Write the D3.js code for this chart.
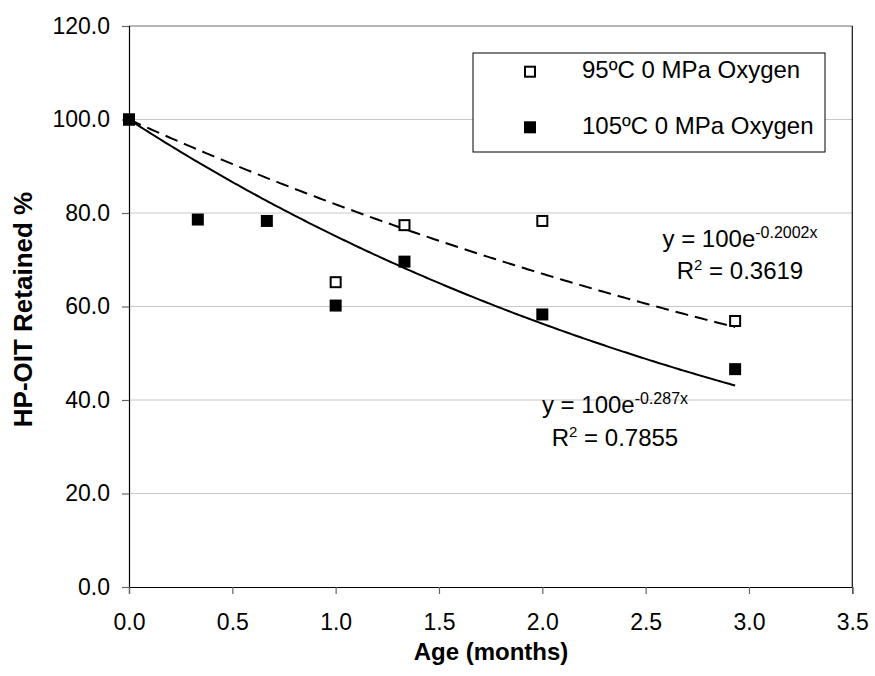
<!DOCTYPE html>
<html>
<head>
<meta charset="utf-8">
<script src="https://cdn.jsdelivr.net/npm/d3@7"></script>
<style>
  html, body { margin: 0; padding: 0; background: #fff; }
  svg { display: block; }
  text { font-family: "Liberation Sans", Arial, sans-serif; fill: #000; }
</style>
</head>
<body>
<svg id="chart" width="875" height="676"></svg>
<script>
// ---- Data ----
const series95x = [0, 1.0, 1.333, 2.0, 2.933];
const series95y = [100, 65.2, 77.4, 78.3, 56.9];
const series105x = [0, 0.333, 0.667, 1.0, 1.333, 2.0, 2.933];
const series105y = [100, 78.6, 78.3, 60.2, 69.6, 58.3, 46.6];
const seriesNames = ["95ºC 0 MPa Oxygen", "105ºC 0 MPa Oxygen"];
// trendline y = a*e^(b x)
const trendA = [100, 100];
const trendB = [-0.2002, -0.287];
const trendR2 = ["0.3619", "0.7855"];
const trendExp = ["-0.2002x", "-0.287x"];
const xTicks = [0, 0.5, 1.0, 1.5, 2.0, 2.5, 3.0, 3.5];
const yTicks = [0, 20, 40, 60, 80, 100, 120];

(function () {
// ---- Layout ----
const svg = d3.select("#chart");
const pL = 129, pR = 852.3, pT = 26, pB = 587;
const x = d3.scaleLinear().domain([0, 3.5]).range([pL, pR]);
const y = d3.scaleLinear().domain([0, 120]).range([pB, pT]);

// gridlines
svg.append("g").selectAll("line").data(yTicks.filter(d => d > 0)).join("line")
  .attr("x1", pL).attr("x2", pR)
  .attr("y1", d => y(d)).attr("y2", d => y(d))
  .attr("stroke", "#c8c8c8").attr("stroke-width", 1);

// plot border top/right
svg.append("line").attr("x1", pL).attr("x2", pR).attr("y1", pT).attr("y2", pT)
  .attr("stroke", "#888").attr("stroke-width", 1);
svg.append("line").attr("x1", pR).attr("x2", pR).attr("y1", pT).attr("y2", pB)
  .attr("stroke", "#111").attr("stroke-width", 1.2);

// axes
const fmt = d3.format(".1f");
const yAxis = svg.append("g").attr("transform", `translate(${pL},0)`)
  .call(d3.axisLeft(y).tickValues(yTicks).tickFormat(fmt).tickSize(7).tickPadding(12));
const xAxis = svg.append("g").attr("transform", `translate(0,${pB})`)
  .call(d3.axisBottom(x).tickValues(xTicks).tickFormat(fmt).tickSize(7).tickPadding(20));
[yAxis, xAxis].forEach(g => {
  g.select(".domain").attr("stroke", "#000").attr("stroke-width", 1.2);
  g.selectAll(".tick line").attr("stroke", "#666").attr("stroke-width", 1.2);
  g.selectAll(".tick text").attr("font-size", 23).attr("font-family", "Liberation Sans, Arial, sans-serif").attr("fill", "#000");
});

// axis titles
svg.append("text").attr("x", 491).attr("y", 660).attr("text-anchor", "middle")
  .attr("font-size", 24).attr("font-weight", "bold").text("Age (months)");
svg.append("text").attr("transform", `translate(32,309.5) rotate(-90)`)
  .attr("text-anchor", "middle").attr("font-size", 26).attr("font-weight", "bold")
  .text("HP-OIT Retained %");

// trendlines
const xmax = d3.max(series105x);
const samples = d3.range(0, 201).map(i => xmax * i / 200);
const line = d3.line().x(d => x(d[0])).y(d => y(d[1]));
[0, 1].forEach(k => {
  svg.append("path")
    .datum(samples.map(t => [t, trendA[k] * Math.exp(trendB[k] * t)]))
    .attr("d", line).attr("fill", "none").attr("stroke", "#000").attr("stroke-width", 2)
    .attr("stroke-dasharray", k === 0 ? "13,7" : null);
});

// markers
const ms = 12;
svg.append("g").selectAll("rect").data(series95x.map((d, i) => [d, series95y[i]])).join("rect")
  .attr("x", d => x(d[0]) - ms / 2 + 1).attr("y", d => y(d[1]) - ms / 2 + 1)
  .attr("width", ms - 2).attr("height", ms - 2)
  .attr("fill", "#fff").attr("stroke", "#000").attr("stroke-width", 2);
svg.append("g").selectAll("rect").data(series105x.map((d, i) => [d, series105y[i]])).join("rect")
  .attr("x", d => x(d[0]) - ms / 2).attr("y", d => y(d[1]) - ms / 2)
  .attr("width", ms).attr("height", ms).attr("fill", "#000");

// equation labels
const eqPos = [[740, 246.7], [615, 413]];
[0, 1].forEach(k => {
  const t = svg.append("text").attr("x", eqPos[k][0]).attr("y", eqPos[k][1])
    .attr("text-anchor", "middle").attr("font-size", 24);
  t.append("tspan").text(`y = ${trendA[k]}e`);
  t.append("tspan").attr("font-size", 16).attr("dy", -9).text(trendExp[k]);
  const r = svg.append("text").attr("x", eqPos[k][0]).attr("y", eqPos[k][1] + 32.5)
    .attr("text-anchor", "middle").attr("font-size", 24);
  r.append("tspan").text("R");
  r.append("tspan").attr("font-size", 15).attr("dy", -9).text("2");
  r.append("tspan").attr("dy", 9).text(` = ${trendR2[k]}`);
});

// legend
const lg = svg.append("g");
lg.append("rect").attr("x", 473).attr("y", 53).attr("width", 352).attr("height", 99)
  .attr("fill", "#fff").attr("stroke", "#000").attr("stroke-width", 1);
const legY = [71.7, 127.3];
lg.append("rect").attr("x", 530 - ms / 2 + 1).attr("y", legY[0] - ms / 2 + 1)
  .attr("width", ms - 2).attr("height", ms - 2).attr("fill", "#fff").attr("stroke", "#000").attr("stroke-width", 2);
lg.append("rect").attr("x", 530 - ms / 2).attr("y", legY[1] - ms / 2)
  .attr("width", ms).attr("height", ms).attr("fill", "#000");
seriesNames.forEach((n, i) => {
  lg.append("text").attr("x", 582).attr("y", legY[i] + 6.5).attr("font-size", 24).text(n);
});
})();
</script>
</body>
</html>
